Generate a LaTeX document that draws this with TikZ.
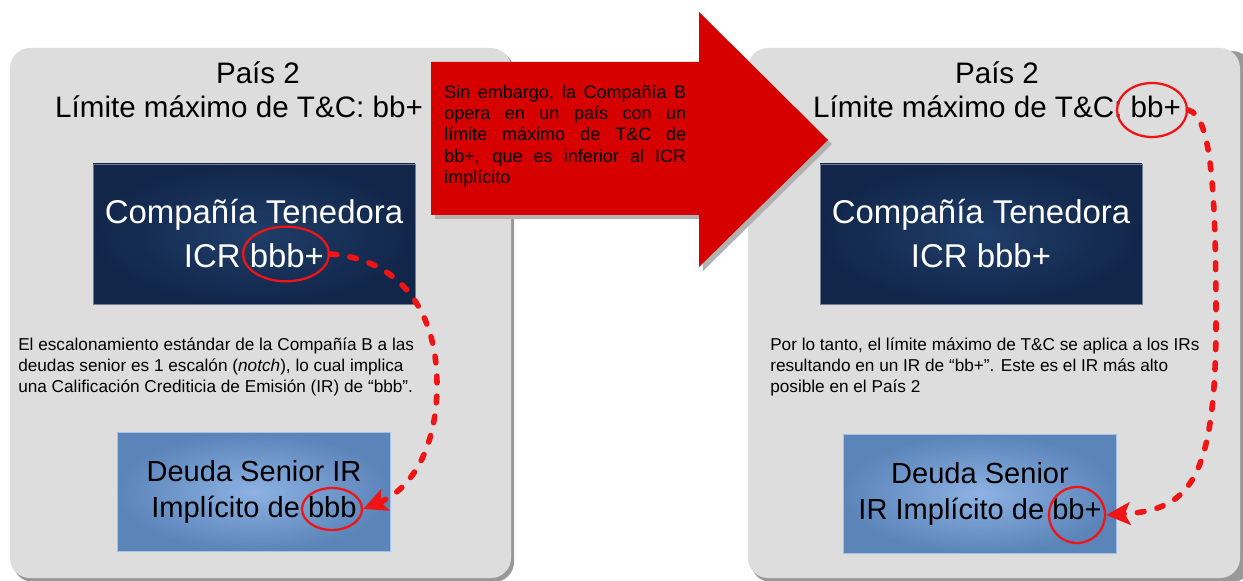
\documentclass[tikz,border=0pt]{standalone}
\usepackage{fontspec}
\setmainfont{Liberation Sans}
\usetikzlibrary{arrows.meta,shapes.geometric}

\definecolor{panelgray}{HTML}{DDDDDD}
\definecolor{navyin}{HTML}{1F3E69}
\definecolor{navyout}{HTML}{12264A}
\definecolor{steelin}{HTML}{8DB2E3}
\definecolor{steelout}{HTML}{5B84B9}
\definecolor{arrowred}{HTML}{D70000}
\definecolor{ringred}{HTML}{F01414}

\begin{document}
\begin{tikzpicture}[x=0.75pt,y=-0.75pt,
    panel/.style={fill=panelgray,rounded corners=15pt},
    panelshade/.style={fill=gray!80,rounded corners=15pt},
    title/.style={align=center,font=\fontsize{22.2}{25.5}\selectfont},
    holdco/.style={inner color=navyin,outer color=navyout,draw=navyout!60!white,
        minimum width=241.5pt,minimum height=105pt,align=center,text=white,
        font=\fontsize{24.7}{33}\selectfont},
    debtbox/.style={inner color=steelin,outer color=steelout,draw=steelin!80!white,
        minimum width=204.75pt,minimum height=89pt,align=center,
        font=\fontsize{21.8}{27.5}\selectfont},
    note/.style={anchor=north west,inner sep=0pt,align=left,
        font=\fontsize{12.9}{15.6}\selectfont},
    ring/.style={ellipse,draw=ringred,line width=1.7pt,inner sep=0pt},
    hop/.style={draw=ringred,line width=4.2pt,line cap=round,
        dash pattern=on 5pt off 10pt,
        -{Stealth[length=18pt,width=17pt,inset=4pt,line cap=butt]}}]

\useasboundingbox (0,0) rectangle (1243,581);

% country panels
\fill[panelshade] (13,51) rectangle (514,582);
\fill[panel] (10,48) rectangle (511,578);
\fill[panelshade] (751,51) rectangle (1252,582);
\fill[panel] (748,48) rectangle (1240,578);

% left side
\node[title] (titleL) at (258,73) {País 2};
\node[title] (limitL) at (239,107) {Límite máximo de T\&C: bb+};
\node[holdco] (holdL) at (254,234) {Compañía Tenedora\\ICR bbb+};
\node[note] (noteL) at (18,338) {El escalonamiento estándar de la Compañía B a las\\
    deudas senior es 1 escalón (\textit{notch}), lo cual implica\\
    una Calificación Crediticia de Emisión (IR) de “bbb”.};
\node[debtbox] (debtL) at (254,492) {Deuda Senior IR\\Implícito de bbb};
\node[ring,minimum width=64.5pt,minimum height=41pt] (ringICR) at (286,254) {};
\node[ring,minimum width=45pt,minimum height=31.5pt] (ringIRL) at (332,509) {};

% right side
\node[title] (titleR) at (997,73) {País 2};
\node[title] (limitR) at (997,107) {Límite máximo de T\&C: bb+};
\node[holdco] (holdR) at (981,234) {Compañía Tenedora\\ICR bbb+};
\node[note] (noteR) at (770,338) {Por lo tanto, el límite máximo de T\&C se aplica a los IRs\\
    resultando en un IR de “bb+”. Este es el IR más alto\\
    posible en el País 2};
\node[debtbox] (debtR) at (980,494) {Deuda Senior\\IR Implícito de bb+};
\node[ring,minimum width=52.5pt,minimum height=40.5pt] (ringTC) at (1152,110) {};
\node[ring,minimum width=42pt,minimum height=42pt] (ringIRR) at (1077,515) {};

% big arrow
\fill[gray!60] (435,66) -- (703,66) -- (703,16) -- (832,144) -- (703,271) -- (703,219) -- (435,219) -- cycle;
\fill[arrowred] (431,62) -- (699,62) -- (699,12) -- (828,140) -- (699,267) -- (699,215) -- (431,215) -- cycle;
\node[anchor=north west,inner sep=0pt,text width=181.5pt,align=justify,
    font=\fontsize{13.5}{15.9}\selectfont] (why) at (444,85)
    {Sin embargo, la Compañía B\linebreak opera en un país con un\linebreak
     límite máximo de T\&C de\linebreak bb+, que es inferior al ICR\linebreak implícito};

% connectors
\draw[hop] (ringICR.east) .. controls (390,258) and (437,300) .. (437,385)
    .. controls (437,450) and (410,490) .. (ringIRL.east);
\draw[hop] (ringTC.east) .. controls (1210,115) and (1216,180) .. (1216,320)
    .. controls (1216,480) and (1190,510) .. (ringIRR.east);

\end{tikzpicture}
\end{document}
